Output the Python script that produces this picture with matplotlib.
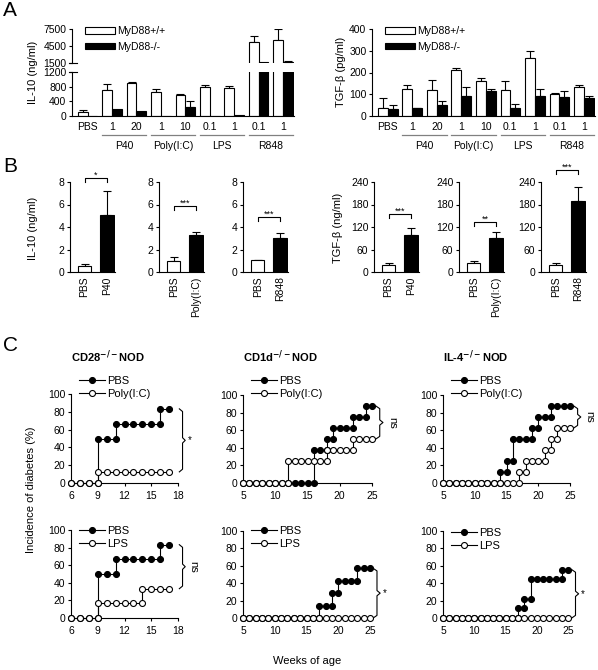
import matplotlib
matplotlib.use("Agg")
import matplotlib.pyplot as plt
from matplotlib.lines import Line2D
from matplotlib.patches import Patch
import matplotlib.transforms as mtransforms
import numpy as np

plt.rcParams['font.family'] = ['Liberation Sans', 'DejaVu Sans']
plt.rcParams['font.size'] = 8
plt.rcParams['axes.linewidth'] = 0.8
plt.rcParams['xtick.major.width'] = 0.8
plt.rcParams['ytick.major.width'] = 0.8
plt.rcParams['xtick.major.size'] = 2.5
plt.rcParams['ytick.major.size'] = 2.5
plt.rcParams['xtick.labelsize'] = 7.5
plt.rcParams['ytick.labelsize'] = 7.5
plt.rcParams['ytick.major.pad'] = 1.5
plt.rcParams['xtick.major.pad'] = 2.5

# ---------------- DATA ----------------
# Panel A
a_conditions = ['PBS', '1', '20', '1', '10', '0.1', '1', '0.1', '1']
a_groups = ['P40', 'Poly(I:C)', 'LPS', 'R848']
a_group_span = [(1, 2), (3, 4), (5, 6), (7, 8)]
il10_wt = [120, 700, 900, 655, 560, 790, 770, 5200, 5600]
il10_wt_err = [55, 160, 20, 70, 30, 45, 40, 1000, 1900]
il10_ko = [0, 180, 150, 0, 250, 0, 20, 1650, 1650]
il10_ko_err = [0, 0, 0, 0, 160, 0, 0, 0, 250]
tgf_wt = [37, 125, 118, 210, 162, 118, 266, 100, 133]
tgf_wt_err = [47, 16, 46, 12, 12, 41, 35, 8, 8]
tgf_ko = [31, 35, 49, 92, 113, 37, 92, 89, 84]
tgf_ko_err = [21, 3, 18, 41, 12, 20, 30, 24, 6]

# Panel B
b_treatments = ['P40', 'Poly(I:C)', 'R848']
b_il10_pbs = [0.55, 1.0, 1.05]
b_il10_pbs_err = [0.15, 0.35, 0.05]
b_il10_trt = [5.05, 3.25, 3.05]
b_il10_trt_err = [2.15, 0.35, 0.4]
b_il10_sig = ['*', '***', '***']
b_il10_brk = [8.35, 5.9, 4.9]
b_tgf_pbs = [20, 23, 19]
b_tgf_pbs_err = [5, 6, 5]
b_tgf_trt = [100, 90, 190]
b_tgf_trt_err = [18, 17, 38]
b_tgf_sig = ['***', '**', '***']
b_tgf_brk = [154, 133, 273]

# Panel C
weeks_cd28 = list(range(6, 18))
weeks_long = list(range(5, 26))
cd28_pbs = [0, 0, 0, 50, 50, 66.7, 66.7, 66.7, 66.7, 66.7, 83.3, 83.3]
cd28_poly = [0, 0, 0, 12.5, 12.5, 12.5, 12.5, 12.5, 12.5, 12.5, 12.5, 12.5]
cd28_lps = [0, 0, 0, 16.7, 16.7, 16.7, 16.7, 16.7, 33.3, 33.3, 33.3, 33.3]
cd1d_pbs = [0]*11 + [37.5, 37.5, 50, 62.5, 62.5, 62.5, 75, 75, 87.5, 87.5]
cd1d_poly = [0]*7 + [25]*6 + [37.5]*4 + [50]*4
cd1d_pbs2 = [0]*12 + [14.3, 14.3, 28.6, 42.9, 42.9, 42.9, 57.1, 57.1, 57.1]
cd1d_lps = [0]*21
il4_pbs = [0]*9 + [12.5, 25, 50, 50, 50, 62.5, 75, 75, 87.5, 87.5, 87.5, 87.5]
il4_poly = [0]*12 + [12.5, 25, 25, 25, 37.5, 50, 62.5, 62.5, 62.5]
il4_pbs2 = [0]*12 + [11.1, 22.2, 44.4, 44.4, 44.4, 44.4, 44.4, 55.6, 55.6]
il4_lps = [0]*21

# ---------------- FIGURE ----------------
W, H = 598, 670
fig = plt.figure(figsize=(W/100, H/100), dpi=100)
fig.patch.set_facecolor('white')


def axpx(x0, y0, x1, y1):
    return fig.add_axes([x0/W, 1 - y1/H, (x1 - x0)/W, (y1 - y0)/H])


def fy(ypx):
    return 1 - ypx/H


def clean(ax):
    ax.spines['top'].set_visible(False)
    ax.spines['right'].set_visible(False)


bw = 0.4
xa = np.arange(len(a_conditions))
XLIM_A = (-0.64, 8.45)


def draw_bars(ax, wt, wterr, ko, koerr):
    ax.bar(xa - bw/2, wt, bw, color='white', edgecolor='black', linewidth=0.8, zorder=2)
    ax.bar(xa + bw/2, ko, bw, color='black', edgecolor='black', linewidth=0.8, zorder=2)
    for xs, vals, errs in ((xa - bw/2, wt, wterr), (xa + bw/2, ko, koerr)):
        for xi, v, e in zip(xs, vals, errs):
            if e > 0:
                ax.errorbar([xi], [v], yerr=[[0], [e]], fmt='none', ecolor='black',
                            elinewidth=0.8, capsize=3, capthick=0.8, zorder=1)


def group_labels(ax):
    ax.set_xticks(xa)
    ax.set_xticklabels(a_conditions)
    ax.tick_params(axis='x', length=0, pad=4)
    tr = mtransforms.blended_transform_factory(ax.transData, fig.transFigure)
    for (g0, g1), name in zip(a_group_span, a_groups):
        ax.add_line(Line2D([g0 - 0.4, g1 + 0.4], [fy(135), fy(135)], transform=tr,
                           color='#808080', lw=0.9, clip_on=False))
        ax.text((g0 + g1)/2, fy(146), name, transform=tr, ha='center', va='center', fontsize=7.5)


# ---- Panel A left (broken axis) ----
axAu = axpx(72, 29, 294, 63)
axAl = axpx(72, 72, 294, 116)
for ax in (axAu, axAl):
    draw_bars(ax, il10_wt, il10_wt_err, il10_ko, il10_ko_err)
    clean(ax)
    ax.set_xlim(*XLIM_A)
axAu.set_ylim(1500, 7500)
axAu.set_yticks([1500, 4500, 7500])
axAu.spines['bottom'].set_visible(False)
axAu.set_xticks([])
axAl.set_ylim(0, 1200)
axAl.set_yticks([0, 400, 800, 1200])
group_labels(axAl)
# axis-break marks crossing the y axis
for ypx in (63, 72):
    fig.add_artist(Line2D([69/W, 77/W], [fy(ypx), fy(ypx)], color='black', lw=0.8))
fig.text(33/W, fy(72), 'IL-10 (ng/ml)', rotation=90, ha='center', va='center', fontsize=8)

# ---- Panel A right ----
axAr = axpx(372, 29, 595, 116)
draw_bars(axAr, tgf_wt, tgf_wt_err, tgf_ko, tgf_ko_err)
clean(axAr)
axAr.set_xlim(*XLIM_A)
axAr.set_ylim(0, 400)
axAr.set_yticks([0, 100, 200, 300, 400])
group_labels(axAr)
fig.text(341/W, fy(72), 'TGF-β (pg/ml)', rotation=90, ha='center', va='center', fontsize=8)

leg_handles = [Patch(facecolor='white', edgecolor='black', linewidth=0.8, label='MyD88+/+'),
               Patch(facecolor='black', edgecolor='black', linewidth=0.8, label='MyD88-/-')]
for x0 in (85, 385):
    fig.legend(handles=leg_handles, loc='upper left', bbox_to_anchor=(x0/W, fy(26)),
               frameon=False, fontsize=7.5, handlelength=2.9, handleheight=0.6,
               handletextpad=0.2, labelspacing=0.55, borderpad=0, borderaxespad=0)

# ---- Panel B ----
def panel_b(x0, y0, pbs, pbserr, trt, trterr, name, sig, brk, ylim, yticks):
    ax = axpx(x0, y0, x0 + 45, 272)
    xs = [0, 1]
    ax.bar(xs, [pbs, trt], 0.6, color=['white', 'black'], edgecolor='black', linewidth=0.8, zorder=2)
    for xi, v, e in zip(xs, [pbs, trt], [pbserr, trterr]):
        ax.errorbar([xi], [v], yerr=[[0], [e]], fmt='none', ecolor='black',
                    elinewidth=0.8, capsize=3, capthick=0.8, zorder=1)
    ax.set_xlim(-0.65, 1.35)
    ax.set_ylim(*ylim)
    ax.set_yticks(yticks)
    ax.set_xticks(xs)
    ax.set_xticklabels(['PBS', name], rotation=90)
    ax.tick_params(axis='x', length=0, pad=3)
    clean(ax)
    d = (ylim[1] - ylim[0]) * 0.045
    ax.plot([0, 0, 1, 1], [brk - d, brk, brk, brk - d], color='black', lw=0.8, clip_on=False)
    ax.text(0.5, brk + d*0.7, sig, ha='center', va='center', fontsize=6.5, clip_on=False)
    return ax


for x0, p, pe, t, te, n, s, b in zip([70, 159, 243], b_il10_pbs, b_il10_pbs_err, b_il10_trt,
                                      b_il10_trt_err, b_treatments, b_il10_sig, b_il10_brk):
    panel_b(x0, 182, p, pe, t, te, n, s, b, (0, 8), [0, 2, 4, 6, 8])
for x0, p, pe, t, te, n, s, b in zip([374, 459, 541], b_tgf_pbs, b_tgf_pbs_err, b_tgf_trt,
                                      b_tgf_trt_err, b_treatments, b_tgf_sig, b_tgf_brk):
    panel_b(x0, 182, p, pe, t, te, n, s, b, (0, 240), [0, 60, 120, 180, 240])
fig.text(33/W, fy(228), 'IL-10 (ng/ml)', rotation=90, ha='center', va='center', fontsize=8)
fig.text(338/W, fy(228), 'TGF-β (ng/ml)', rotation=90, ha='center', va='center', fontsize=8)

# ---- Panel C ----
def step_xy(weeks, vals):
    xs, ys = [weeks[0]], [vals[0]]
    for i in range(1, len(weeks)):
        if vals[i] != vals[i-1]:
            xs.append(weeks[i]); ys.append(vals[i-1])
        xs.append(weeks[i]); ys.append(vals[i])
    return xs, ys


def panel_c(box, weeks, pbs, other, other_name, xlim, xticks, sig, brx, legx, legy, title=None):
    ax = axpx(*box)
    x1, y1 = step_xy(weeks, pbs)
    x2, y2 = step_xy(weeks, other)
    ax.plot(x1, y1, '-o', color='black', lw=0.8, ms=4.3, mfc='black', mec='black',
            mew=0.8, clip_on=False, zorder=3, label='PBS')
    ax.plot(x2, y2, '-o', color='black', lw=0.8, ms=4.3, mfc='white', mec='black',
            mew=0.8, clip_on=False, zorder=4, label=other_name)
    ax.set_xlim(*xlim)
    ax.set_xticks(xticks)
    ax.set_ylim(0, 100)
    ax.set_yticks([0, 20, 40, 60, 80, 100])
    clean(ax)
    ax.tick_params(axis='x', pad=3)
    # brace
    top, bot = pbs[-1], other[-1]
    mid = (top + bot)/2
    xw = (xlim[1] - xlim[0])
    xa0, xa1, xa2 = brx, brx + 0.03*xw, brx + 0.055*xw
    dd = 3
    ax.plot([xa0, xa1, xa1, xa2, xa1, xa1, xa0],
            [top, top - dd, mid + dd, mid, mid - dd, bot + dd, bot],
            color='black', lw=0.8, clip_on=False)
    if sig == 'ns':
        ax.text(xa2 + 0.03*xw, mid, 'ns', rotation=-90, ha='left', va='center', fontsize=8)
    else:
        ax.text(xa2 + 0.02*xw, mid, sig, ha='left', va='center', fontsize=7)
    ax.legend(loc='upper left', bbox_to_anchor=(legx/W, fy(legy)), bbox_transform=fig.transFigure,
              frameon=False, fontsize=8, handlelength=2.3, handletextpad=0.25,
              labelspacing=0.25, borderpad=0, borderaxespad=0)
    if title:
        ax.text(0, fy(357), title, transform=mtransforms.blended_transform_factory(ax.transAxes, fig.transFigure),
                ha='left', va='center', fontsize=8, fontweight='bold')
    return ax


panel_c((71, 394, 178, 483), weeks_cd28, cd28_pbs, cd28_poly, 'Poly(I:C)', (6, 18),
        [6, 9, 12, 15, 18], '*', 18.15, 79, 376, r'CD28$^{\mathbf{-/-}}$NOD')
panel_c((243, 395, 372, 483), weeks_long, cd1d_pbs, cd1d_poly, 'Poly(I:C)', (5, 25),
        [5, 10, 15, 20, 25], 'ns', 25.6, 251, 376, r'CD1d$^{\mathbf{-/-}}$NOD')
panel_c((443, 395, 570, 483), weeks_long, il4_pbs, il4_poly, 'Poly(I:C)', (5, 25),
        [5, 10, 15, 20, 25], 'ns', 25.6, 451, 376, r'IL-4$^{\mathbf{-/-}}$NOD')
panel_c((71, 530, 178, 618), weeks_cd28, cd28_pbs, cd28_lps, 'LPS', (6, 18),
        [6, 9, 12, 15, 18], 'ns', 18.15, 79, 526)
panel_c((243, 531, 370, 618), weeks_long, cd1d_pbs2, cd1d_lps, 'LPS', (5, 25),
        [5, 10, 15, 20, 25], '*', 25.5, 251, 526)
panel_c((443, 531, 568, 618), weeks_long, il4_pbs2, il4_lps, 'LPS', (5, 25),
        [5, 10, 15, 20, 25], '*', 25.6, 451, 528)

fig.text(31/W, fy(490), 'Incidence of diabetes (%)', rotation=90, ha='center', va='center', fontsize=8)
fig.text(307/W, fy(661), 'Weeks of age', ha='center', va='center', fontsize=8)

# panel letters
for letter, xp, yp in (('A', 10, 11), ('B', 10, 167), ('C', 10, 345)):
    fig.text(xp/W, fy(yp), letter, fontsize=15, ha='center', va='center')

fig.savefig('out.png', dpi=100)
